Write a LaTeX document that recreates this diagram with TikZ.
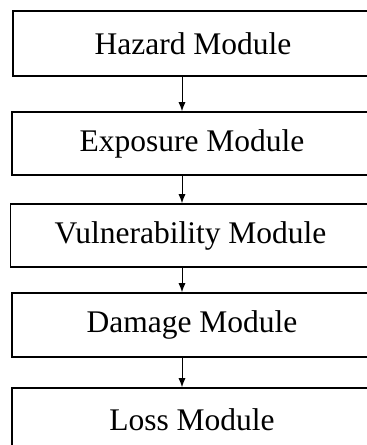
\documentclass[tikz,border=0pt]{standalone}
\usepackage{fontspec}
\setmainfont{Liberation Serif}
\usetikzlibrary{arrows.meta,positioning}

\tikzset{
	module/.style={draw, line width=1.6pt, minimum width=360pt, inner sep=0pt,
		font=\fontsize{31.5}{36}\selectfont},
	flow/.style={-{Latex[length=9pt,width=7pt]}, line width=0.9pt}
}

\begin{document}
\begin{tikzpicture}[x=1pt,y=-1pt]
	\useasboundingbox (0,0) rectangle (367,445);
	\node[module, minimum height=65pt] (haz) at (193,43.5) {Hazard Module};
	\node[module, minimum height=63pt] (exp) at (192,143.5) {Exposure Module};
	\node[module, minimum height=63pt] (vul) at (190.5,235.5) {Vulnerability Module};
	\node[module, minimum height=64pt] (dam) at (192,325) {Damage Module};
	\node[module, minimum height=64pt] (los) at (192,420) {Loss Module};
	\draw[flow] (haz.south -| 182,0) -- (exp.north -| 182,0);
	\draw[flow] (exp.south -| 182,0) -- (vul.north -| 182,0);
	\draw[flow] (vul.south -| 182,0) -- (dam.north -| 182,0);
	\draw[flow] (dam.south -| 182,0) -- (los.north -| 182,0);
\end{tikzpicture}
\end{document}
